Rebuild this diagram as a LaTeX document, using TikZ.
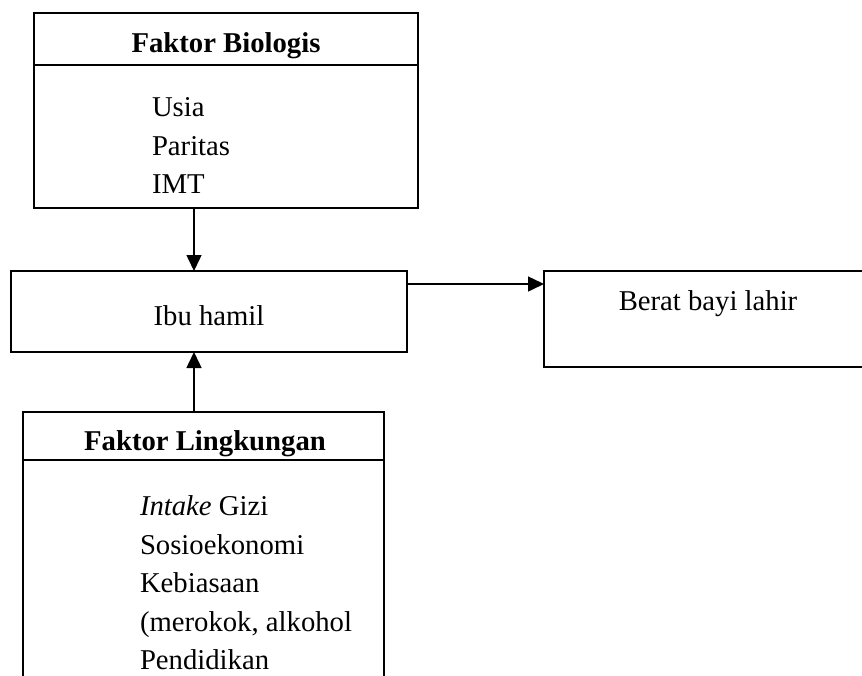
\documentclass[tikz,border=0pt]{standalone}
\usepackage{fontspec}
\setmainfont{Liberation Serif}
\usetikzlibrary{arrows.meta,calc}
\tikzset{
  boxst/.style={draw=black, line width=1.5pt, rectangle, inner sep=0pt, outer sep=0pt},
  txt/.style={inner sep=0pt, outer sep=0pt, font=\fontsize{28.7pt}{38.5pt}\selectfont},
  hdr/.style={txt, font=\fontsize{28.7pt}{38.5pt}\selectfont\bfseries, anchor=base},
  item/.style={txt, anchor=base west},
  arr/.style={line width=1.5pt, -{Triangle[length=16pt,width=15pt]}},
  sepline/.style={line width=1.5pt}
}
\begin{document}
\begin{tikzpicture}[x=1pt,y=-1pt]
\useasboundingbox (0,0) rectangle (862,675);
% boxes
\node[boxst, minimum width=384pt, minimum height=195pt, anchor=north west] (bio) at (34,13) {};
\node[boxst, minimum width=396pt, minimum height=81pt, anchor=north west] (ibu) at (11,271) {};
\node[boxst, minimum width=322pt, minimum height=96pt, anchor=north west] (berat) at (544,271) {};
\node[boxst, minimum width=361pt, minimum height=300pt, anchor=north west] (ling) at (23,412) {};
% header separators
\draw[sepline] ($(bio.north west)+(0,52)$) -- ($(bio.north east)+(0,52)$);
\draw[sepline] ($(ling.north west)+(0,48)$) -- ($(ling.north east)+(0,48)$);
% texts
\node[hdr] (bioh) at (226,52) {Faktor Biologis};
\node[item] (b1) at (152,116) {Usia};
\node[item] (b2) at (152,155) {Paritas};
\node[item] (b3) at (152,193) {IMT};
\node[txt, anchor=base] (ibut) at (209,325) {Ibu hamil};
\node[txt, anchor=base] (beratt) at (708,310) {Berat bayi lahir};
\node[hdr] (lingh) at (205,450) {Faktor Lingkungan};
\node[item] (l1) at (140,515) {\textit{Intake} Gizi};
\node[item] (l2) at (140,554) {Sosioekonomi};
\node[item] (l3) at (140,592) {Kebiasaan};
\node[item] (l4) at (140,631) {(merokok, alkohol};
\node[item] (l5) at (140,669) {Pendidikan};
% connectors
\coordinate (ax) at (194,0);
\coordinate (ay) at (0,284);
\draw[arr] (bio.south -| ax) -- (ibu.north -| ax);
\draw[arr] (ling.north -| ax) -- (ibu.south -| ax);
\draw[arr] (ibu.east |- ay) -- (berat.west |- ay);
\end{tikzpicture}
\end{document}
